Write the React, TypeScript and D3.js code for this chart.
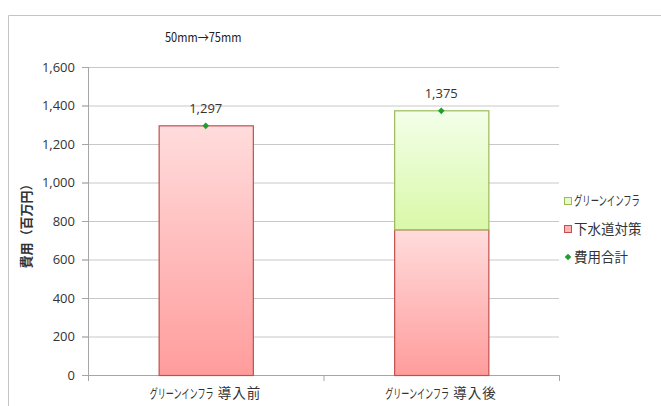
import React from "react";
import * as d3 from "d3";

const categoryKana = ["グリーンインフラ", "グリーンインフラ"];
const categoryKanji = ["導入前", "導入後"];
const categories = ["グリーンインフラ導入前", "グリーンインフラ導入後"];
const sewerValues = [1297, 757];
const greenValues = [0, 618];
const totalValues = [1297, 1375];
const yTicks = [0, 200, 400, 600, 800, 1000, 1200, 1400, 1600];
const legendLabels = ["グリーンインフラ", "下水道対策", "費用合計"];
const title = "50mm→75mm";
const yLabel = "費用（百万円）";

const W = 661, H = 406;
const jp = "'Noto Sans CJK JP', 'Noto Sans', sans-serif";
const num = "'Liberation Sans Narrow', 'Open Sans', sans-serif";

export default function App() {
  const x = d3.scaleBand<string>().domain(categories).range([88, 559]).paddingInner(0).paddingOuter(0);
  const y = d3.scaleLinear().domain([0, 1600]).range([375, 67]);
  const bw = x.bandwidth() * 0.4;
  const fmt = d3.format(",");
  const marker = d3.symbol(d3.symbolSquare, 22)() as string;
  return (
    <svg width={W} height={H} style={{ position: "absolute", left: 0, top: 0 }}>
      <defs>
        <linearGradient id="gr" x1="0" y1="0" x2="0" y2="1">
          <stop offset="0" stopColor="#ffdcdc" />
          <stop offset="1" stopColor="#ff9c9c" />
        </linearGradient>
        <linearGradient id="gg" x1="0" y1="0" x2="0" y2="1">
          <stop offset="0" stopColor="#f3ffe9" />
          <stop offset="1" stopColor="#d9f8a8" />
        </linearGradient>
      </defs>
      <rect x={0} y={0} width={W} height={H} fill="#fff" />
      <path d={`M8.5,${H} V15.5 H${W}`} fill="none" stroke="#c4c4c4" />
      <text transform="translate(165,42) scale(0.85,1)" fontFamily={jp} fontSize={13} fill="#222">{title}</text>
      {yTicks.map((t) => (
        <g key={t}>
          <line x1={82} x2={559} y1={y(t) + 0.5} y2={y(t) + 0.5} stroke={t === 0 ? "#a6a6a6" : "#c8c8c8"} />
          <line x1={82} x2={88} y1={y(t) + 0.5} y2={y(t) + 0.5} stroke="#a6a6a6" />
          <text x={75} y={y(t) + 4.5} textAnchor="end" fontFamily={num} fontSize={13} fill="#333">{fmt(t)}</text>
        </g>
      ))}
      <line x1={88.5} x2={88.5} y1={67} y2={375} stroke="#a6a6a6" />
      {[88, 323.5, 559].map((v, i) => (
        <line key={i} x1={v + 0.5} x2={v + 0.5} y1={375} y2={381} stroke="#a6a6a6" />
      ))}
      <text transform={`translate(31,223) rotate(-90)`} textAnchor="middle" fontFamily={jp} fontSize={13} fontWeight="bold" fill="#333">{yLabel}</text>
      {categories.map((c, i) => {
        const cx = (x(c) as number) + x.bandwidth() / 2;
        const x0 = cx - bw / 2;
        const lx = cx - 56;
        return (
          <g key={c}>
            <rect x={x0 + 0.5} y={y(sewerValues[i]) + 0.5} width={bw} height={y(0) - y(sewerValues[i])} fill="url(#gr)" stroke="#c0504d" strokeWidth={1.2} />
            {greenValues[i] > 0 && (
              <rect x={x0 + 0.5} y={y(sewerValues[i] + greenValues[i]) + 0.5} width={bw} height={y(sewerValues[i]) - y(sewerValues[i] + greenValues[i])} fill="url(#gg)" stroke="#9bbb59" strokeWidth={1.2} />
            )}
            <path d={marker} transform={`translate(${cx},${y(totalValues[i]) + 0.5}) rotate(45)`} fill="#1fa02e" />
            <text x={cx} y={y(totalValues[i]) - 12} textAnchor="middle" fontFamily={num} fontSize={13} fill="#333">{fmt(totalValues[i])}</text>
            <text transform={`translate(${lx},398) scale(0.62,1)`} fontFamily={jp} fontSize={13} fill="#333">{categoryKana[i]}</text>
            <text x={lx + 68} y={398} fontFamily={jp} fontSize={13.5} fill="#333" letterSpacing={1}>{categoryKanji[i]}</text>
          </g>
        );
      })}
      <g>
        <rect x={564.5} y={197.5} width={7} height={7} fill="#e6fbc8" stroke="#9bbb59" />
        <text transform="translate(574,205) scale(0.64,1)" fontFamily={jp} fontSize={13} fill="#333">{legendLabels[0]}</text>
        <rect x={564.5} y={225.5} width={7} height={7} fill="#ffb3b3" stroke="#c0504d" />
        <text x={574} y={234} fontFamily={jp} fontSize={13.5} fill="#333">{legendLabels[1]}</text>
        <path d={marker} transform={`translate(568,257) rotate(45)`} fill="#1fa02e" />
        <text x={574} y={262} fontFamily={jp} fontSize={13.5} fill="#333">{legendLabels[2]}</text>
      </g>
    </svg>
  );
}
